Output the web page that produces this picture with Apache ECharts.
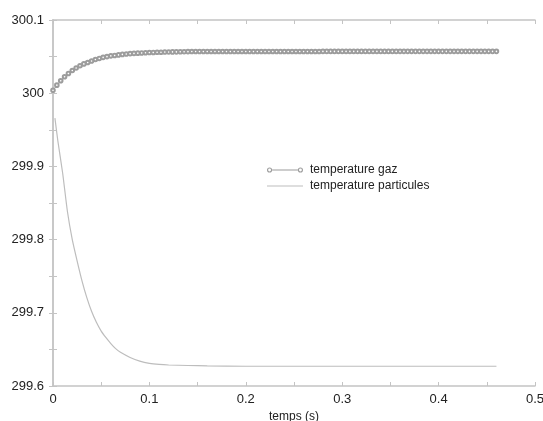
<!DOCTYPE html>
<html>
<head>
<meta charset="utf-8">
<script src="https://cdn.jsdelivr.net/npm/echarts@6/dist/echarts.min.js"></script>
<style>
  html, body { margin: 0; padding: 0; background: #fff; }
  #chart { width: 543px; height: 421px; }
</style>
</head>
<body>
<div id="chart"></div>
<script>
// Sample times (s) and gas temperature (K)
const gasTime = [
  0,0.004,0.008,0.012,0.016,0.02,0.024,0.028,0.032,0.036,
  0.04,0.044,0.048,0.052,0.056,0.06,0.064,0.068,0.072,0.076,
  0.08,0.084,0.088,0.092,0.096,0.1,0.104,0.108,0.112,0.116,
  0.12,0.124,0.128,0.132,0.136,0.14,0.144,0.148,0.152,0.156,
  0.16,0.164,0.168,0.172,0.176,0.18,0.184,0.188,0.192,0.196,
  0.2,0.204,0.208,0.212,0.216,0.22,0.224,0.228,0.232,0.236,
  0.24,0.244,0.248,0.252,0.256,0.26,0.264,0.268,0.272,0.276,
  0.28,0.284,0.288,0.292,0.296,0.3,0.304,0.308,0.312,0.316,
  0.32,0.324,0.328,0.332,0.336,0.34,0.344,0.348,0.352,0.356,
  0.36,0.364,0.368,0.372,0.376,0.38,0.384,0.388,0.392,0.396,
  0.4,0.404,0.408,0.412,0.416,0.42,0.424,0.428,0.432,0.436,
  0.44,0.444,0.448,0.452,0.456,0.46
];
const gasTemp = [
  300.004,300.011,300.017,300.0225,300.027,300.031,300.0345,300.0375,300.040,300.042,
  300.044,300.046,300.0475,300.049,300.050,300.051,300.0516,300.0523,300.053,300.0535,
  300.054,300.0544,300.0547,300.055,300.0553,300.0555,300.0557,300.0559,300.056,300.0562,
  300.0563,300.0564,300.0565,300.0566,300.0567,300.0568,300.0569,300.057,300.057,300.057,
  300.057,300.057,300.057,300.057,300.057,300.057,300.057,300.057,300.057,300.057,
  300.057,300.057,300.057,300.057,300.057,300.057,300.057,300.057,300.057,300.057,
  300.057,300.057,300.057,300.057,300.057,300.057,300.057,300.057,300.057,300.057,
  300.0571,300.0571,300.0571,300.0571,300.0571,300.0571,300.0571,300.0571,300.0571,300.0571,
  300.0571,300.0571,300.0571,300.0571,300.0571,300.0571,300.0571,300.0571,300.0571,300.0571,
  300.0572,300.0572,300.0572,300.0572,300.0572,300.0572,300.0572,300.0572,300.0572,300.0572,
  300.0572,300.0572,300.0572,300.0572,300.0572,300.0572,300.0572,300.0572,300.0572,300.0572,
  300.0572,300.0572,300.0572,300.0572,300.0572,300.0572
];

// Particle temperature (K)
const partTime = [
  0.002,0.005,0.01,0.015,0.02,0.025,0.03,0.035,0.04,0.045,
  0.05,0.055,0.06,0.065,0.07,0.08,0.09,0.1,0.11,0.12,
  0.14,0.16,0.2,0.25,0.3,0.35,0.4,0.46
];
const partTemp = [
  299.966,299.935,299.891,299.838,299.800,299.771,299.744,299.721,299.702,299.687,
  299.675,299.666,299.658,299.651,299.646,299.639,299.634,299.631,299.6295,299.6287,
  299.628,299.6275,299.627,299.627,299.627,299.627,299.627,299.627
];

const xTicks = { min: 0, max: 0.5, interval: 0.1 };
const yTicks = { min: 299.6, max: 300.1, interval: 0.1 };

const seriesNames = ['temperature gaz', 'temperature particules'];

const zip = (a, b) => a.map((v, i) => [v, b[i]]);

const axisColor = '#c4c4c4';
const gasColor = '#9c9c9c';
const partColor = '#bdbdbd';
const fontFamily = 'Liberation Sans, Arial, sans-serif';
const labelFont = { color: '#222', fontSize: 13, fontFamily: fontFamily };

// Frame axis: line plus inward major/minor ticks; labels only where asked
function frameAxis(extra) {
  return Object.assign({
    type: 'value',
    axisLine: { show: true, lineStyle: { color: axisColor, width: 1.5 } },
    axisTick: { show: true, inside: true, length: 4, lineStyle: { color: axisColor } },
    minorTick: { show: true, splitNumber: 2, length: 4, lineStyle: { color: axisColor } },
    splitLine: { show: false },
    axisLabel: { show: false }
  }, extra);
}

const chart = echarts.init(document.getElementById('chart'), null, { renderer: 'canvas' });

chart.setOption({
  backgroundColor: '#fff',
  animation: false,
  grid: { left: 53, right: 8, top: 20, bottom: 35, containLabel: false, outerBoundsMode: 'none' },
  legend: {
    orient: 'vertical',
    left: 262,
    top: 159,
    itemGap: 4,
    itemWidth: 36,
    itemHeight: 6,
    textStyle: { color: '#222', fontSize: 12, fontFamily: fontFamily, padding: [0, 0, 0, 2] },
    data: [
      {
        name: seriesNames[0],
        icon: 'path://M0.5,3A2.5,2.5 0 1,1 5.5,3A2.5,2.5 0 1,1 0.5,3ZM1.6,3A1.4,1.4 0 1,0 4.4,3A1.4,1.4 0 1,0 1.6,3ZM5.5,2.6L30.5,2.6L30.5,3.4L5.5,3.4ZM30.5,3A2.5,2.5 0 1,1 35.5,3A2.5,2.5 0 1,1 30.5,3ZM31.6,3A1.4,1.4 0 1,0 34.4,3A1.4,1.4 0 1,0 31.6,3Z',
        itemStyle: { color: gasColor, borderWidth: 0 }
      },
      {
        name: seriesNames[1],
        icon: 'path://M0,2.6L36,2.6L36,3.4L0,3.4Z',
        itemStyle: { color: partColor, borderWidth: 0 }
      }
    ]
  },
  xAxis: [
    frameAxis({
      position: 'bottom',
      min: xTicks.min, max: xTicks.max, interval: xTicks.interval,
      name: 'temps (s)',
      nameLocation: 'middle',
      nameGap: 22,
      nameTextStyle: { color: '#222', fontSize: 12, fontFamily: fontFamily },
      axisLabel: Object.assign({ show: true, margin: 7 }, labelFont)
    }),
    frameAxis({
      position: 'top',
      min: xTicks.min, max: xTicks.max, interval: xTicks.interval
    })
  ],
  yAxis: [
    frameAxis({
      position: 'left',
      min: yTicks.min, max: yTicks.max, interval: yTicks.interval,
      axisLabel: Object.assign({ show: true, margin: 9, formatter: v => String(+v.toFixed(1)) }, labelFont)
    }),
    frameAxis({
      position: 'right',
      min: yTicks.min, max: yTicks.max, interval: yTicks.interval
    })
  ],
  series: [
    {
      name: seriesNames[0],
      type: 'line',
      data: zip(gasTime, gasTemp),
      symbol: 'emptyCircle',
      symbolSize: 3.6,
      lineStyle: { color: gasColor, width: 1 },
      itemStyle: { color: gasColor, borderColor: gasColor, borderWidth: 0.8 },
      z: 3
    },
    {
      name: seriesNames[1],
      type: 'line',
      data: zip(partTime, partTemp),
      symbol: 'none',
      smooth: 0.2,
      lineStyle: { color: partColor, width: 1.2 },
      itemStyle: { color: partColor },
      z: 2
    }
  ]
});
</script>
</body>
</html>
